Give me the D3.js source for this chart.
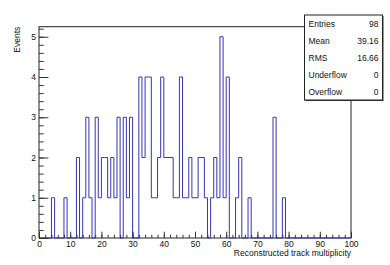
<!doctype html>
<html>
<head>
<script type='text/javascript' src='https://d3js.org/d3.v7.min.js'></script>
<style>
body { margin: 0; background: #fff; }
text { font-family: 'Liberation Sans', Arial, sans-serif; }
</style>
</head>
<body>
<script>
var width = 390, height = 265;
// bin contents, bins of width 1 from 0 to 100
var counts = [
 0,0,0,0,1,0,0,0,1,0,
 0,0,2,0,1,3,1,0,3,1,
 2,2,1,2,1,3,0,3,1,3,
 0,0,4,2,4,4,1,1,2,4,
 2,2,2,1,1,4,1,1,2,1,
 1,2,2,1,0,1,2,1,5,1,
 4,0,0,1,2,0,0,1,0,0,
 0,0,0,0,0,3,0,0,1,0,
 0,0,0,0,0,0,0,0,0,0,
 0,0,0,0,0,0,0,0,0,0];
var xMajor = [0,10,20,30,40,50,60,70,80,90,100];
var yMajor = [0,1,2,3,4,5];
var statNames = ['Entries','Mean','RMS','Underflow','Overflow'];
var statValues = ['98','39.16','16.66','0','0'];

var svg = d3.select('body').append('svg').attr('width',width).attr('height',height);

var x = d3.scaleLinear().domain([0,100]).range([39,351]);
var y = d3.scaleLinear().domain([0,5.25]).range([238,26.7]);

// frame
svg.append('rect')
 .attr('x',x(0)).attr('y',y(5.25))
 .attr('width',x(100)-x(0)).attr('height',y(0)-y(5.25))
 .attr('fill','none').attr('stroke','#222').attr('stroke-width',1);

// histogram outline
var pts = [[0,0]];
counts.forEach(function(v,i){ pts.push([i,v]); pts.push([i+1,v]); });
pts.push([100,0]);
var line = d3.line().x(function(d){return x(d[0])}).y(function(d){return y(d[1])});
svg.append('path').attr('d',line(pts))
 .attr('fill','none').attr('stroke','#3535b0').attr('stroke-width',1);

// x axis
var gx = svg.append('g').attr('transform','translate(0,'+y(0)+')');
gx.call(d3.axisBottom(x).tickValues(d3.range(0,101,2)).tickSize(-3.2).tickFormat(''));
var gx2 = svg.append('g').attr('transform','translate(0,'+y(0)+')');
gx2.call(d3.axisBottom(x).tickValues(xMajor).tickSize(-6.3).tickPadding(3).tickFormat(d3.format('d')));
// y axis
var gy = svg.append('g').attr('transform','translate('+x(0)+',0)');
gy.call(d3.axisLeft(y).tickValues(d3.range(0,5.21,0.2)).tickSize(-4.7).tickFormat(''));
var gy2 = svg.append('g').attr('transform','translate('+x(0)+',0)');
gy2.call(d3.axisLeft(y).tickValues(yMajor).tickSize(-9.4).tickPadding(3).tickFormat(d3.format('d')));
svg.selectAll('.domain').remove();
svg.selectAll('.tick line').attr('stroke','#333');
svg.selectAll('.tick text').attr('font-size','8.5px').attr('fill','#111')
 .style('font-family',"'Liberation Sans', Arial, sans-serif");

// axis titles
svg.append('text').attr('x',x(100)).attr('y',256).attr('fill','#111')
 .attr('text-anchor','end').attr('font-size','8.5px').text('Reconstructed track multiplicity');
svg.append('text').attr('transform','translate(20,'+y(5.25)+') rotate(-90)').attr('fill','#111')
 .attr('text-anchor','end').attr('font-size','8.5px').text('Events');

// stats box
var bx = 304.5, by = 15, bw = 78, bh = 85;
svg.append('rect').attr('x',bx+1).attr('y',by+1).attr('width',bw).attr('height',bh).attr('fill','#333');
svg.append('rect').attr('x',bx).attr('y',by).attr('width',bw).attr('height',bh)
 .attr('fill','#fff').attr('stroke','#222').attr('stroke-width',1);
var rowH = bh/statNames.length;
statNames.forEach(function(n,i){
 svg.append('text').attr('x',bx+4).attr('y',by+rowH*(i+0.5)+3).attr('font-size','8.5px').attr('fill','#111').text(n);
 svg.append('text').attr('x',bx+bw-4).attr('y',by+rowH*(i+0.5)+3).attr('font-size','8.5px').attr('fill','#111')
  .attr('text-anchor','end').text(statValues[i]);
});
</script>
</body>
</html>
